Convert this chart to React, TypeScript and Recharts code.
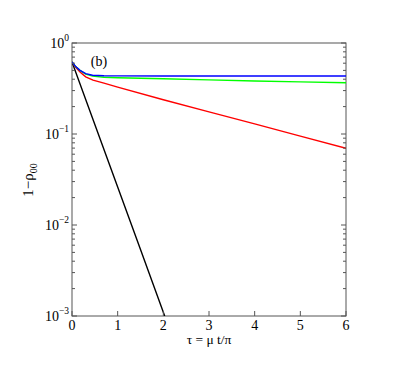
import { LineChart, Line, XAxis, YAxis } from 'recharts';

// values (log y axis)
const tauBlack = [0, 0.5, 1, 1.5, 2, 2.03];
const rhoBlack = [0.62, 0.127, 0.0261, 0.00537, 0.0011, 0.001];

const tauBlue = [0, 0.08, 0.175, 0.3, 0.45, 0.7, 1, 2, 3, 4, 5, 6];
const rhoBlue = [0.62, 0.55, 0.5, 0.46, 0.442, 0.436, 0.435, 0.434, 0.434, 0.434, 0.434, 0.434];

const tauGreen = [0, 0.08, 0.175, 0.3, 0.45, 0.7, 1, 2, 3, 4, 5, 6];
const rhoGreen = [0.62, 0.55, 0.5, 0.455, 0.432, 0.42, 0.415, 0.404, 0.393, 0.383, 0.374, 0.366];

const tauRed = [0, 0.08, 0.175, 0.3, 0.46, 0.7, 1, 2, 3, 4, 5, 6];
const rhoRed = [0.62, 0.54, 0.48, 0.425, 0.39, 0.362, 0.327, 0.238, 0.175, 0.129, 0.0948, 0.0697];

const xTicks = [0, 1, 2, 3, 4, 5, 6];
const yMajor = [0.001, 0.01, 0.1, 1];
const yMajorExp = ['−3', '−2', '−1', '0'];
const yTicks = [0.001, 0.01, 0.1]
  .flatMap((d) => [1, 2, 3, 4, 5, 6, 7, 8, 9].map((m) => +(m * d).toPrecision(3)))
  .concat([1]);

const pts = (xs: number[], ys: number[]) => xs.map((t, i) => ({ t, v: ys[i] }));

const W = 407;
const H = 370;
const L = 72;
const R = 346;
const T = 43;
const B = 316;
const AX = '#555';
const serif = { fontFamily: '"Liberation Serif", "Times New Roman", Times, serif' };

const majorIndex = (v: number) => yMajor.findIndex((m) => Math.abs(m - v) < 1e-9);

function BottomTick(props: any) {
  const { x, payload } = props;
  return (
    <g>
      <line x1={x} x2={x} y1={B} y2={B - 5} stroke={AX} />
      <text x={x} y={B + 14} textAnchor="middle" fontSize={14} style={serif} fill="#000">
        {payload.value}
      </text>
    </g>
  );
}

function TopTick(props: any) {
  const { x } = props;
  return <line x1={x} x2={x} y1={T} y2={T + 5} stroke={AX} />;
}

function LeftTick(props: any) {
  const { y, payload } = props;
  const idx = majorIndex(payload.value);
  const major = idx >= 0;
  return (
    <g>
      <line x1={L} x2={L + (major ? 5 : 3)} y1={y} y2={y} stroke={AX} />
      {major && (
        <text x={L - 3} y={y + 5} textAnchor="end" fontSize={14} style={serif} fill="#000">
          10
          <tspan dy={-7} fontSize={9.5}>
            {yMajorExp[idx]}
          </tspan>
        </text>
      )}
    </g>
  );
}

function RightTick(props: any) {
  const { y, payload } = props;
  const major = majorIndex(payload.value) >= 0;
  return <line x1={R} x2={R - (major ? 5 : 3)} y1={y} y2={y} stroke={AX} />;
}

export default function App() {
  return (
    <div style={{ position: 'absolute', left: 0, top: 0, background: '#fff' }}>
      <LineChart width={W} height={H} margin={{ top: T - 10, right: W - R - 10, bottom: H - B - 30, left: L - 60 }}>
        <XAxis
          xAxisId="b"
          dataKey="t"
          type="number"
          domain={[0, 6]}
          ticks={xTicks}
          height={30}
          axisLine={false}
          tickLine={false}
          tick={<BottomTick />}
          interval={0}
          allowDataOverflow
        />
        <XAxis
          xAxisId="top"
          orientation="top"
          dataKey="t"
          type="number"
          domain={[0, 6]}
          ticks={xTicks}
          height={10}
          axisLine={false}
          tickLine={false}
          tick={<TopTick />}
          interval={0}
        />
        <YAxis
          yAxisId="l"
          type="number"
          scale="log"
          domain={[0.001, 1]}
          ticks={yTicks}
          width={60}
          axisLine={false}
          tickLine={false}
          tick={<LeftTick />}
          interval={0}
          allowDataOverflow
        />
        <YAxis
          yAxisId="r"
          orientation="right"
          type="number"
          scale="log"
          domain={[0.001, 1]}
          ticks={yTicks}
          width={10}
          axisLine={false}
          tickLine={false}
          tick={<RightTick />}
          interval={0}
          allowDataOverflow
        />
        <rect x={L} y={T} width={R - L} height={B - T} fill="none" stroke={AX} />
        <Line xAxisId="b" yAxisId="l" data={pts(tauBlack, rhoBlack)} dataKey="v" stroke="#000000" strokeWidth={1.4} dot={false} isAnimationActive={false} />
        <Line xAxisId="b" yAxisId="l" data={pts(tauRed, rhoRed)} dataKey="v" stroke="#ff0000" strokeWidth={1.4} dot={false} isAnimationActive={false} />
        <Line xAxisId="b" yAxisId="l" data={pts(tauGreen, rhoGreen)} dataKey="v" stroke="#00ff00" strokeWidth={1.4} dot={false} isAnimationActive={false} />
        <Line xAxisId="b" yAxisId="l" data={pts(tauBlue, rhoBlue)} dataKey="v" stroke="#0000ff" strokeWidth={1.4} dot={false} isAnimationActive={false} />
        <text x={99} y={66} textAnchor="middle" fontSize={14} style={serif} fill="#000">
          (b)
        </text>
        <text x={209} y={344} textAnchor="middle" fontSize={13.5} style={serif} fill="#000">
          τ = μ t/π
        </text>
        <text x={33} y={180} textAnchor="middle" fontSize={15} style={serif} fill="#000" transform="rotate(-90 33 180)">
          1−ρ
          <tspan dy={4} fontSize={10}>
            00
          </tspan>
        </text>
      </LineChart>
    </div>
  );
}
